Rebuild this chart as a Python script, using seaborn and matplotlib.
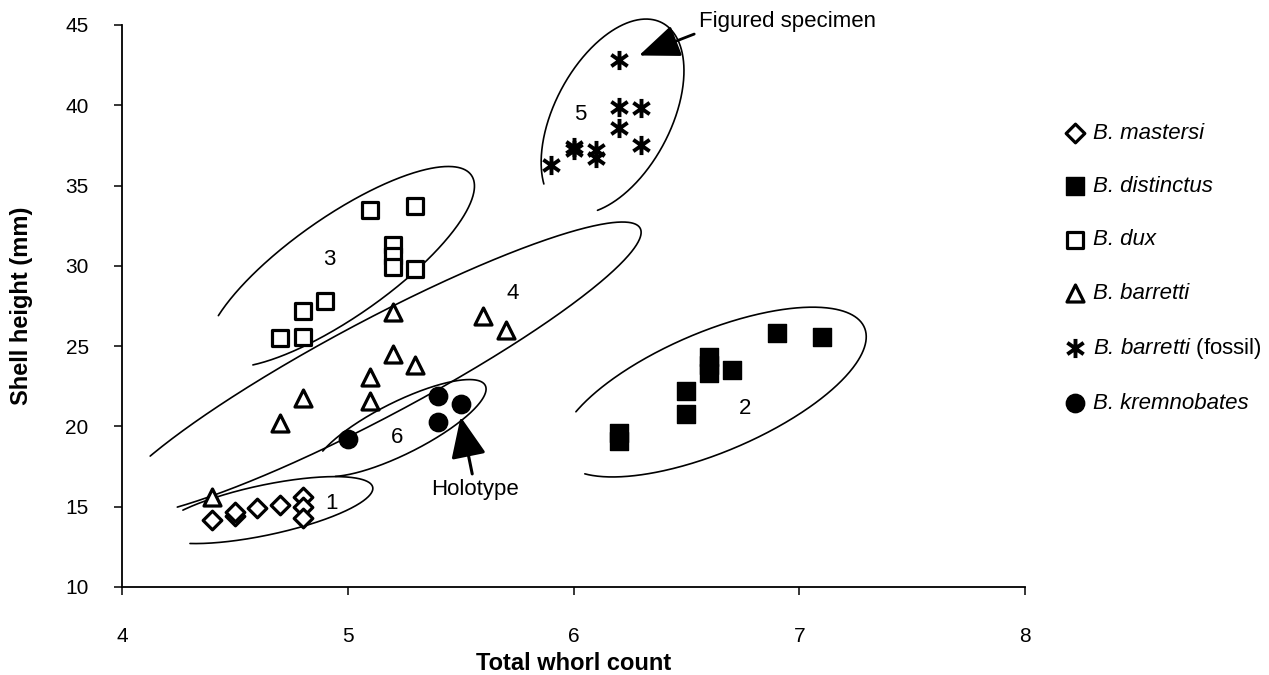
import numpy as np
import pandas as pd
import matplotlib
matplotlib.use("Agg")
import matplotlib.pyplot as plt
from matplotlib.path import Path
import seaborn as sns

# ---------------- data ----------------
mastersi_x = [4.4, 4.5, 4.5, 4.6, 4.7, 4.8, 4.8, 4.8]
mastersi_y = [14.2, 14.4, 14.7, 14.9, 15.1, 15.6, 15.0, 14.3]

distinctus_x = [6.2, 6.2, 6.5, 6.5, 6.6, 6.6, 6.6, 6.7, 6.9, 7.1]
distinctus_y = [19.6, 19.1, 22.2, 20.8, 24.3, 23.8, 23.3, 23.5, 25.8, 25.6]

dux_x = [4.7, 4.8, 4.8, 4.9, 5.1, 5.3, 5.2, 5.2, 5.2, 5.3]
dux_y = [25.5, 25.6, 27.2, 27.8, 33.5, 33.7, 31.3, 30.6, 29.9, 29.8]

barretti_x = [4.4, 4.7, 4.8, 5.1, 5.1, 5.2, 5.3, 5.2, 5.6, 5.7]
barretti_y = [15.6, 20.2, 21.8, 21.6, 23.1, 24.5, 23.8, 27.1, 26.9, 26.0]

fossil_x = [6.2, 6.2, 6.3, 6.2, 6.3, 6.0, 6.0, 6.1, 6.1, 5.9]
fossil_y = [42.8, 39.9, 39.8, 38.6, 37.5, 37.4, 37.2, 37.2, 36.7, 36.3]

kremnobates_x = [5.0, 5.4, 5.4, 5.5]
kremnobates_y = [19.2, 21.9, 20.3, 21.4]

species = ["B. mastersi", "B. distinctus", "B. dux", "B. barretti",
           "B. barretti (fossil)", "B. kremnobates"]
legend_labels = ["B. mastersi", "B. distinctus", "B. dux", "B. barretti",
                 r"B. barretti $\mathrm{(fossil)}$", "B. kremnobates"]
xs = [mastersi_x, distinctus_x, dux_x, barretti_x, fossil_x, kremnobates_x]
ys = [mastersi_y, distinctus_y, dux_y, barretti_y, fossil_y, kremnobates_y]

x_ticks = [4, 5, 6, 7, 8]
y_ticks = [10, 15, 20, 25, 30, 35, 40, 45]

group_labels = ["1", "2", "3", "4", "5", "6"]
group_label_x = [4.93, 6.76, 4.92, 5.73, 6.03, 5.22]
group_label_y = [15.2, 21.1, 30.4, 28.3, 39.4, 19.3]

# ---------------- style ----------------
sns.set_theme(style="ticks")
plt.rcParams["font.family"] = ["Liberation Sans", "DejaVu Sans"]
plt.rcParams["mathtext.fontset"] = "custom"
plt.rcParams["mathtext.it"] = "Liberation Sans:italic"
plt.rcParams["mathtext.rm"] = "Liberation Sans"
for key in ["text.color", "axes.labelcolor", "xtick.color", "ytick.color",
            "axes.edgecolor"]:
    plt.rcParams[key] = "black"

# asterisk: vertical bar plus an X
ast = Path([(0, -1), (0, 1), (-0.85, -0.6), (0.85, 0.6), (-0.85, 0.6), (0.85, -0.6)],
           [Path.MOVETO, Path.LINETO, Path.MOVETO, Path.LINETO, Path.MOVETO, Path.LINETO])

styles = [
    dict(marker="D", color="white", edgecolor="black", s=90, linewidth=2.3),
    dict(marker="s", color="black", edgecolor="black", s=150, linewidth=1.0),
    dict(marker="s", color="white", edgecolor="black", s=135, linewidth=2.3),
    dict(marker="^", color="white", edgecolor="black", s=150, linewidth=2.3),
    dict(marker=ast, color="black", edgecolor="black", s=190, linewidth=2.8),
    dict(marker="o", color="black", edgecolor="black", s=175, linewidth=1.0),
]

fig = plt.figure(figsize=(12.69, 6.75), dpi=100)
ax = fig.add_axes([122 / 1269, 1 - 587 / 675, 903 / 1269, 562 / 675])

for name, lab, x, y, st in zip(species, legend_labels, xs, ys, styles):
    df = pd.DataFrame({"whorls": x, "height": y})
    sns.scatterplot(data=df, x="whorls", y="height", ax=ax, label=lab,
                    zorder=3, clip_on=False, **st)

ax.set_xlim(4, 8)
ax.set_ylim(10, 45)
ax.set_xticks(x_ticks)
ax.set_yticks(y_ticks)
ax.tick_params(axis="both", direction="out", length=6, width=1.1, colors="black",
               labelsize=15)
ax.tick_params(axis="y", pad=18)
ax.tick_params(axis="x", pad=23)
for sp in ["top", "right"]:
    ax.spines[sp].set_visible(False)
for sp in ["left", "bottom"]:
    ax.spines[sp].set_color("black")
    ax.spines[sp].set_linewidth(1.3)

ax.set_xlabel("Total whorl count", fontsize=17, fontweight="bold", color="black")
ax.set_ylabel("Shell height (mm)", fontsize=17, fontweight="bold", color="black")
ax.xaxis.set_label_coords(0.5, -0.115)
ax.yaxis.set_label_coords(-0.099, 0.5)

# ---------------- group ellipses (open hand-drawn style) ----------------
# center (data), semi-axes (pixels), tilt (deg), open gap around the far-left tip (deg)
ellipses = [
    (4.634, 14.79, 110, 25, 12, 137, 223),
    (6.616, 22.14, 165, 60, 23, 144, 205),
    (4.967, 29.93, 160, 50, 35, 143, 217),
    (5.122, 23.57, 300, 48, 28, 143, 217),
    (6.173, 39.30, 106, 58, 62, 150, 212),
    (5.233, 19.90, 95, 26, 26.6, 147, 213),
]
for cx, cy, a, b, ang, g0, g1 in ellipses:
    t = np.radians(np.linspace(g1, g0 + 360, 500))
    th = np.radians(ang)
    c = ax.transData.transform((cx, cy))
    px = c[0] + a * np.cos(t) * np.cos(th) - b * np.sin(t) * np.sin(th)
    py = c[1] + a * np.cos(t) * np.sin(th) + b * np.sin(t) * np.cos(th)
    d = ax.transData.inverted().transform(np.column_stack([px, py]))
    ax.plot(d[:, 0], d[:, 1], color="black", lw=1.2, zorder=2, clip_on=False)

for lab, gx, gy in zip(group_labels, group_label_x, group_label_y):
    ax.text(gx, gy, lab, fontsize=16, ha="center", va="center", color="black")

# ---------------- annotations ----------------
arrow1 = dict(arrowstyle="-|>,head_length=0.6,head_width=0.24", color="black",
              lw=2, mutation_scale=42, shrinkA=1, shrinkB=0, relpos=(0.0, 0.0))
arrow2 = dict(arrowstyle="-|>,head_length=0.6,head_width=0.26", color="black",
              lw=2.2, mutation_scale=42, shrinkA=1, shrinkB=0)
ax.annotate("Figured specimen", xy=(6.29, 43.1), xytext=(6.555, 45.2),
            fontsize=16, ha="left", va="center", arrowprops=arrow1,
            annotation_clip=False, color="black")
ax.annotate("Holotype", xy=(5.5, 20.6), xytext=(5.565, 16.1),
            fontsize=16, ha="center", va="center", arrowprops=arrow2,
            annotation_clip=False, color="black")

# ---------------- legend ----------------
h, l = ax.get_legend_handles_labels()
leg = ax.legend(h, l, loc="upper left", bbox_to_anchor=(1055 / 1269, 1 - 114 / 675),
                bbox_transform=fig.transFigure, frameon=False, fontsize=16,
                labelspacing=1.45, handletextpad=0.3, handlelength=1.0,
                borderaxespad=0)
for txt in leg.get_texts():
    txt.set_fontstyle("italic")
    txt.set_color("black")

fig.savefig("out.png", dpi=100)
